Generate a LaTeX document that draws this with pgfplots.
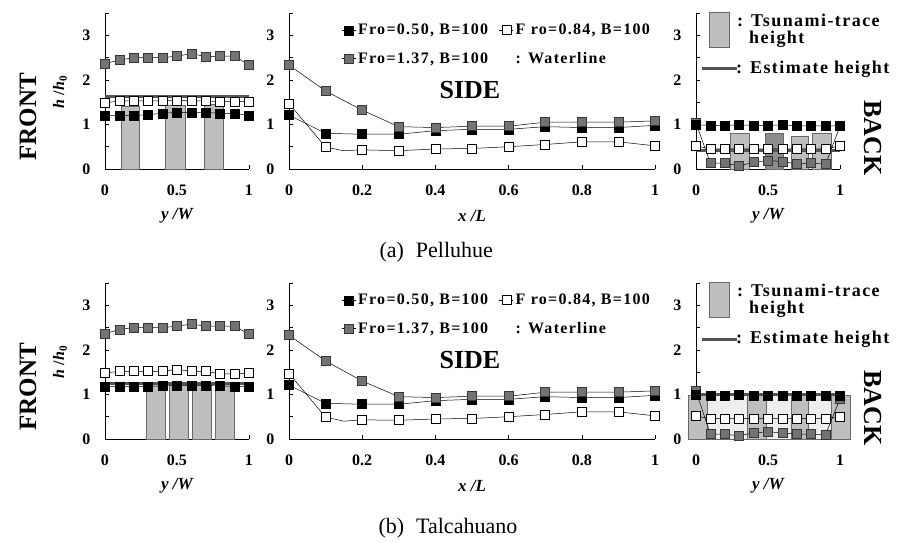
\documentclass[border=0pt]{standalone}
\usepackage{fontspec}
\setmainfont{Liberation Serif}
\newfontfamily\legfont[LetterSpace=8]{Liberation Serif}
\usepackage{pgfplots}
\pgfplotsset{compat=1.18}

\definecolor{mkgray}{RGB}{115,115,115}
\definecolor{mkedge}{RGB}{55,55,55}
\definecolor{estc}{RGB}{85,85,85}
\definecolor{barfill}{RGB}{190,190,190}
\definecolor{baredge}{RGB}{105,105,105}
\definecolor{bardark}{RGB}{140,140,140}
\definecolor{barlight}{RGB}{238,238,238}

\tikzset{tbar/.style={fill=barfill, draw=baredge, line width=0.8pt}}

\pgfplotsset{
  panel/.style={
    scale only axis, height=156pt, anchor=south west,
    xmin=0, xmax=1, ymin=0, ymax=3.5,
    axis x line*=bottom, axis y line*=left,
    axis line style={line width=0.8pt, black},
    ytick={0,0.5,1,1.5,2,2.5,3,3.5},
    yticklabels={0,,1,,2,,3,},
    tick align=inside, major tick length=4pt,
    tick style={line width=0.6pt, black},
    ticklabel style={font=\fontsize{16}{16}\selectfont\bfseries},
    xticklabel style={yshift=-12pt},
    yticklabel style={xshift=-11pt},
    clip=false,
    xlabel style={font=\fontsize{17}{17}\selectfont\bfseries\itshape,
      at={(axis description cs:0.5,0)}, anchor=center, yshift=-47pt},
    legend image code/.code={\draw[mark repeat=2,mark phase=2,#1]
      plot coordinates {(0pt,0pt) (7pt,0pt) (14pt,0pt)};},
  },
  s50/.style={black, line width=0.5pt, mark=square*, mark size=4.5pt,
    mark options={fill=black, draw=black}},
  s84/.style={black, line width=0.5pt, mark=square*, mark size=4.5pt,
    mark options={fill=white, draw=black, line width=0.7pt}},
  s137/.style={black, line width=0.5pt, mark=square*, mark size=4.5pt,
    mark options={fill=mkgray, draw=mkedge, line width=0.7pt}},
  est/.style={estc, line width=3pt, no marks},
  sideleg/.style={legend columns=2, legend cell align=left,
    legend style={draw=none, fill=none, at={(axis description cs:0.135,0.955)}, anchor=north west,
      font=\legfont\fontsize{16}{16}\selectfont\bfseries, row sep=12pt,
      /tikz/every even column/.append style={column sep=9pt}}},
}

\newcommand{\rowdecor}[1]{%
  \begin{scope}[yshift=#1]
    \node[rotate=90, font=\fontsize{25}{25}\selectfont\bfseries] at (28pt,-117pt) {FRONT};
    \node[rotate=90, font=\fontsize{16}{16}\selectfont\bfseries] at (60pt,-92pt)
      {\textit{h} /\textit{h}\textsubscript{0}};
    \node[rotate=-90, font=\fontsize{26}{26}\selectfont\bfseries] at (873pt,-138pt) {BACK};
    \node[font=\fontsize{26}{26}\selectfont\bfseries] at (470pt,-90pt) {SIDE};
    \draw[tbar] (709pt,-12pt) rectangle (729pt,-47pt);
    \node[anchor=west, inner sep=0pt, font=\legfont\fontsize{18}{18}\selectfont\bfseries] at (737pt,-20pt) {: Tsunami-trace};
    \node[anchor=west, inner sep=0pt, font=\legfont\fontsize{18}{18}\selectfont\bfseries] at (749pt,-39pt) {height};
    \draw[estc, line width=3pt] (702pt,-69pt) -- (737pt,-69pt);
    \node[anchor=west, inner sep=0pt, font=\legfont\fontsize{18}{18}\selectfont\bfseries] at (736pt,-69pt) {: Estimate height};
  \end{scope}}

\newcommand{\sidelegend}{%
  \addlegendimage{s50}\addlegendentry{Fro=0.50, B=100}
  \addlegendimage{s84}\addlegendentry{F ro=0.84, B=100}
  \addlegendimage{s137}\addlegendentry{Fro=1.37, B=100}
  \addlegendimage{empty legend}\addlegendentry{: Waterline}}

\begin{document}
\begin{tikzpicture}
\path[use as bounding box] (0pt,0pt) rectangle (898pt,-543pt);

% ---------------- (a) Pelluhue ----------------
\begin{axis}[panel, at={(105pt,-169pt)}, width=144pt,
  xtick={0,0.5,1}, xticklabels={0,0.5,1}, xlabel={y /W}]
\addplot[tbar] coordinates {(0.116,1.40) (0.238,1.40)} \closedcycle;
\addplot[tbar] coordinates {(0.42,1.43) (0.56,1.43)} \closedcycle;
\addplot[tbar] coordinates {(0.69,1.45) (0.82,1.45)} \closedcycle;
\addplot[s137] coordinates {(0,2.37) (0.1,2.44) (0.2,2.5) (0.3,2.5) (0.4,2.5) (0.5,2.53) (0.6,2.59) (0.7,2.52) (0.8,2.53) (0.9,2.53) (1,2.33)};
\addplot[s84] coordinates {(0,1.48) (0.1,1.53) (0.2,1.53) (0.3,1.53) (0.4,1.53) (0.5,1.54) (0.6,1.53) (0.7,1.53) (0.8,1.51) (0.9,1.51) (1,1.51)};
\addplot[s50] coordinates {(0,1.2) (0.1,1.2) (0.2,1.2) (0.3,1.22) (0.4,1.25) (0.5,1.27) (0.6,1.27) (0.7,1.27) (0.8,1.25) (0.9,1.25) (1,1.2)};
\addplot[est] coordinates {(0,1.62) (1,1.62)};
\end{axis}

\begin{axis}[panel, at={(289pt,-169pt)}, width=366pt, sideleg,
  xtick={0,0.2,0.4,0.6,0.8,1}, xticklabels={0,0.2,0.4,0.6,0.8,1}, xlabel={x /L}]
\sidelegend
\addplot[s50, forget plot] coordinates {(0,1.21) (0.1,0.8) (0.2,0.78) (0.3,0.78) (0.4,0.86) (0.5,0.89) (0.6,0.89) (0.7,0.95) (0.8,0.93) (0.9,0.93) (1,0.98)};
\addplot[black, line width=0.5pt, forget plot] coordinates {(0,1.47) (0.1,0.49) (0.15,0.41) (0.2,0.43) (0.3,0.41) (0.4,0.45) (0.5,0.46) (0.6,0.5) (0.7,0.55) (0.8,0.61) (0.9,0.61) (1,0.52)};
\addplot[s84, only marks, forget plot] coordinates {(0,1.47) (0.1,0.49) (0.2,0.43) (0.3,0.41) (0.4,0.45) (0.5,0.46) (0.6,0.5) (0.7,0.55) (0.8,0.61) (0.9,0.61) (1,0.52)};
\addplot[s137, forget plot] coordinates {(0,2.33) (0.1,1.75) (0.2,1.32) (0.3,0.95) (0.4,0.93) (0.5,0.96) (0.6,0.96) (0.7,1.05) (0.8,1.05) (0.9,1.05) (1,1.08)};
\end{axis}

\begin{axis}[panel, at={(696pt,-169pt)}, width=144pt,
  xtick={0,0.5,1}, xticklabels={0,0.5,1}, xlabel={y /W}]
\addplot[tbar] coordinates {(0.24,0.80) (0.37,0.80)} \closedcycle;
\addplot[tbar, fill=bardark] coordinates {(0.48,0.80) (0.61,0.80)} \closedcycle;
\addplot[tbar] coordinates {(0.66,0.74) (0.78,0.74)} \closedcycle;
\addplot[tbar] coordinates {(0.81,0.80) (0.94,0.80)} \closedcycle;
\addplot[s137] coordinates {(0,1.03) (0.1,0.13) (0.2,0.13) (0.3,0.07) (0.4,0.15) (0.5,0.19) (0.6,0.17) (0.7,0.11) (0.8,0.13) (0.9,0.11) (1,0.96)};
\addplot[s84] coordinates {(0,0.52) (0.1,0.45) (0.2,0.45) (0.3,0.45) (0.4,0.45) (0.5,0.45) (0.6,0.45) (0.7,0.45) (0.8,0.45) (0.9,0.45) (1,0.52)};
\addplot[s50] coordinates {(0,0.99) (0.1,0.98) (0.2,0.98) (0.3,0.99) (0.4,0.98) (0.5,0.98) (0.6,0.99) (0.7,0.97) (0.8,0.97) (0.9,0.97) (1,0.97)};
\addplot[est] coordinates {(0,0.42) (1,0.42)};
\end{axis}

% ---------------- (b) Talcahuano ----------------
\begin{axis}[panel, at={(105pt,-439pt)}, width=144pt,
  xtick={0,0.5,1}, xticklabels={0,0.5,1}, xlabel={y /W}]
\addplot[tbar] coordinates {(0.29,1.25) (0.42,1.25)} \closedcycle;
\addplot[tbar] coordinates {(0.45,1.25) (0.58,1.25)} \closedcycle;
\addplot[tbar] coordinates {(0.61,1.25) (0.74,1.25)} \closedcycle;
\addplot[tbar] coordinates {(0.77,1.25) (0.90,1.25)} \closedcycle;
\addplot[s137] coordinates {(0,2.36) (0.1,2.46) (0.2,2.5) (0.3,2.5) (0.4,2.5) (0.5,2.53) (0.6,2.58) (0.7,2.53) (0.8,2.53) (0.9,2.53) (1,2.35)};
\addplot[s84] coordinates {(0,1.48) (0.1,1.52) (0.2,1.52) (0.3,1.52) (0.4,1.52) (0.5,1.56) (0.6,1.52) (0.7,1.52) (0.8,1.46) (0.9,1.46) (1,1.48)};
\addplot[s50] coordinates {(0,1.18) (0.1,1.18) (0.2,1.18) (0.3,1.18) (0.4,1.19) (0.5,1.2) (0.6,1.2) (0.7,1.2) (0.8,1.19) (0.9,1.18) (1,1.18)};
\addplot[est] coordinates {(0,1.25) (1,1.25)};
\end{axis}

\begin{axis}[panel, at={(289pt,-439pt)}, width=366pt, sideleg,
  xtick={0,0.2,0.4,0.6,0.8,1}, xticklabels={0,0.2,0.4,0.6,0.8,1}, xlabel={x /L}]
\sidelegend
\addplot[s50, forget plot] coordinates {(0,1.21) (0.1,0.8) (0.2,0.78) (0.3,0.78) (0.4,0.86) (0.5,0.89) (0.6,0.89) (0.7,0.95) (0.8,0.93) (0.9,0.93) (1,0.98)};
\addplot[black, line width=0.5pt, forget plot] coordinates {(0,1.47) (0.1,0.49) (0.15,0.40) (0.2,0.43) (0.3,0.42) (0.4,0.45) (0.5,0.46) (0.6,0.5) (0.7,0.55) (0.8,0.61) (0.9,0.61) (1,0.52)};
\addplot[s84, only marks, forget plot] coordinates {(0,1.47) (0.1,0.49) (0.2,0.43) (0.3,0.42) (0.4,0.45) (0.5,0.46) (0.6,0.5) (0.7,0.55) (0.8,0.61) (0.9,0.61) (1,0.52)};
\addplot[s137, forget plot] coordinates {(0,2.33) (0.1,1.75) (0.2,1.3) (0.3,0.95) (0.4,0.93) (0.5,0.96) (0.6,0.96) (0.7,1.05) (0.8,1.05) (0.9,1.05) (1,1.08)};
\end{axis}

\begin{axis}[panel, at={(696pt,-439pt)}, width=144pt,
  xtick={0,0.5,1}, xticklabels={0,0.5,1}, xlabel={y /W}]
\addplot[tbar, fill=barlight] coordinates {(-0.05,0.97) (1.07,0.97)} \closedcycle;
\addplot[tbar] coordinates {(-0.05,0.97) (0.076,0.97)} \closedcycle;
\addplot[tbar] coordinates {(0.36,0.97) (0.49,0.97)} \closedcycle;
\addplot[tbar] coordinates {(0.66,0.97) (0.78,0.97)} \closedcycle;
\addplot[tbar] coordinates {(0.94,0.97) (1.07,0.97)} \closedcycle;
\addplot[s137] coordinates {(0,1.07) (0.1,0.11) (0.2,0.11) (0.3,0.07) (0.4,0.14) (0.5,0.16) (0.6,0.14) (0.7,0.11) (0.8,0.11) (0.9,0.1) (1,0.9)};
\addplot[s84] coordinates {(0,0.51) (0.1,0.46) (0.2,0.46) (0.3,0.46) (0.4,0.46) (0.5,0.46) (0.6,0.46) (0.7,0.46) (0.8,0.46) (0.9,0.46) (1,0.49)};
\addplot[s50] coordinates {(0,0.99) (0.1,0.98) (0.2,0.98) (0.3,0.99) (0.4,0.98) (0.5,0.98) (0.6,0.98) (0.7,0.98) (0.8,0.98) (0.9,0.98) (1,0.98)};
\addplot[est] coordinates {(0,0.99) (1,0.99)};
\end{axis}

\rowdecor{0pt}
\rowdecor{-270pt}
\node[anchor=west, font=\fontsize{22}{22}\selectfont] at (376pt,-252pt) {(a)\hspace{12pt}Pelluhue};
\node[anchor=west, font=\fontsize{22}{22}\selectfont] at (375pt,-528pt) {(b)\hspace{12pt}Talcahuano};
\end{tikzpicture}
\end{document}
